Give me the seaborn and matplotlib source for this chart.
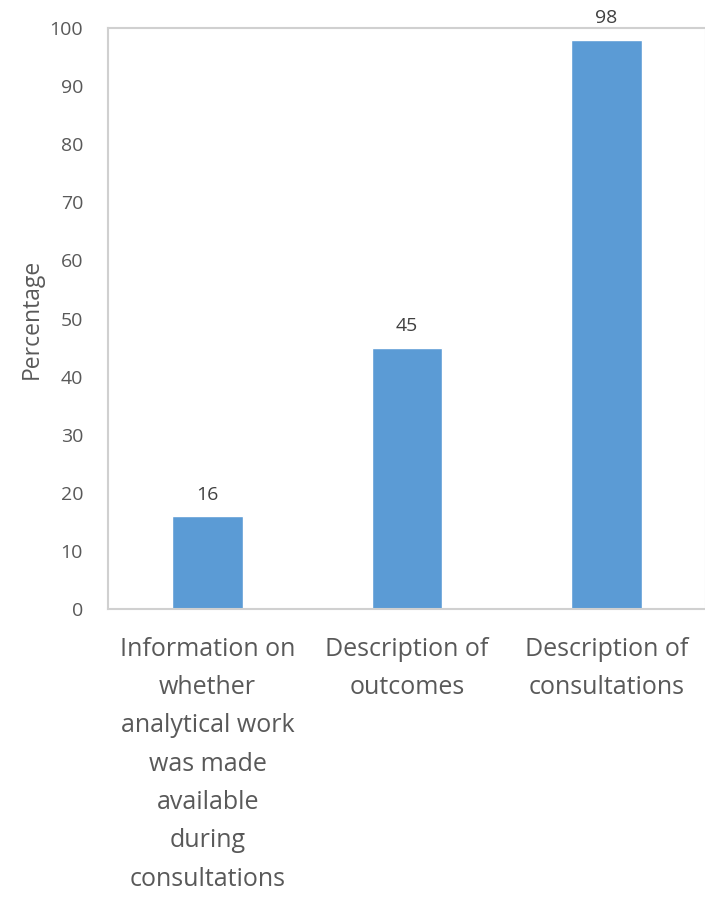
"""
Bar chart of percentages for consultation-related disclosures.
"""

import matplotlib
matplotlib.use('Agg')
import matplotlib.pyplot as plt
import seaborn as sns
import pandas as pd

categories = ['Information on\nwhether\nanalytical work\nwas made\navailable\nduring\nconsultations',
              'Description of\noutcomes',
              'Description of\nconsultations']
percentages = [16, 45, 98]
yticks = list(range(0, 101, 10))

BAR_COLOR = '#5B9BD5'
TEXT_COLOR = '#595959'
LINE_COLOR = '#D0D0D0'


def main():
    sns.set_style('white')
    plt.rcParams['font.family'] = ['Open Sans', 'DejaVu Sans']

    df = pd.DataFrame({'category': categories, 'pct': percentages})

    fig = plt.figure(figsize=(7.05, 8.97), dpi=100)
    ax = fig.add_axes([108 / 705, 288 / 897, 598 / 705, 581 / 897])

    sns.barplot(data=df, x='category', y='pct', color=BAR_COLOR,
                width=0.355, saturation=1, ax=ax)

    ax.set_xlim(-0.5, 2.5)
    ax.set_ylim(0, 100)
    ax.set_yticks(yticks)
    ax.tick_params(axis='both', length=0, colors=TEXT_COLOR)
    ax.tick_params(axis='y', labelsize=14, pad=18)
    ax.tick_params(axis='x', labelsize=18, pad=20)
    for lab in ax.get_xticklabels():
        lab.set_linespacing(1.70)

    ax.set_xlabel('')
    ax.set_ylabel('Percentage', fontsize=16.5, color=TEXT_COLOR, labelpad=4)

    for side in ['left', 'top', 'bottom', 'right']:
        ax.spines[side].set_visible(True)
        ax.spines[side].set_color(LINE_COLOR)
        ax.spines[side].set_linewidth(1.5)

    ax.bar_label(ax.containers[0], padding=9, fontsize=14, color='#404040')

    fig.savefig('out.png', dpi=100)


if __name__ == "__main__":
    main()
